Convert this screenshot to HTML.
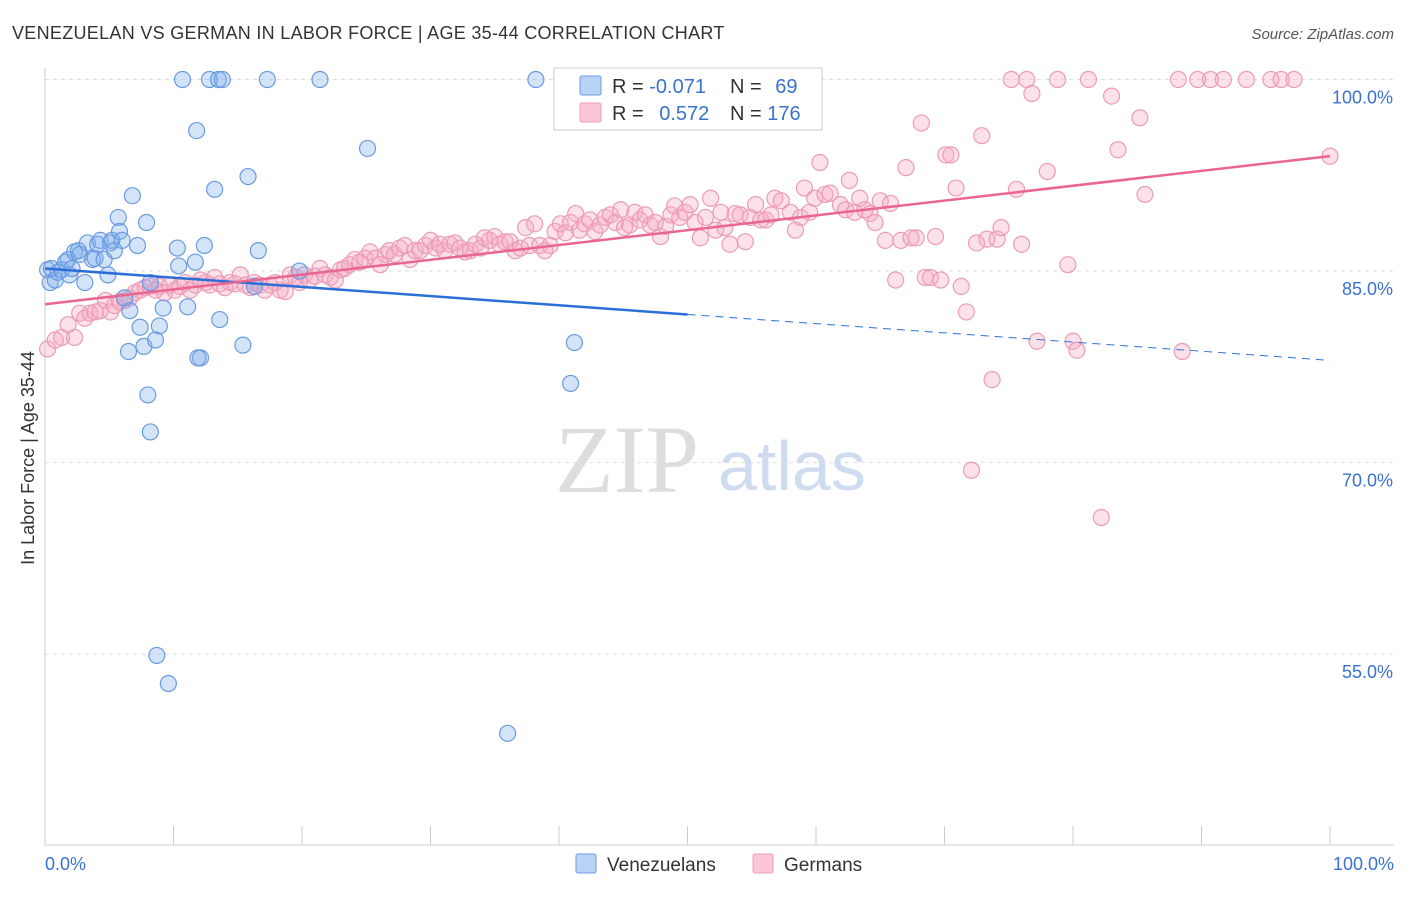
<!DOCTYPE html>
<html><head><meta charset="utf-8"><style>
body{margin:0;background:#fff;font-family:"Liberation Sans",sans-serif}
#wrap{position:relative;width:1406px;height:892px}
</style></head><body>
<div id="wrap">
<svg id="svg" width="1406" height="892" xmlns="http://www.w3.org/2000/svg">
<text x="12" y="39" font-size="18" fill="#333" letter-spacing="0.3">VENEZUELAN VS GERMAN IN LABOR FORCE | AGE 35-44 CORRELATION CHART</text>
<text x="1394" y="39" font-size="15" fill="#555" text-anchor="end" font-style="italic">Source: ZipAtlas.com</text>
<text transform="translate(34,458) rotate(-90)" font-size="18" fill="#333" text-anchor="middle">In Labor Force | Age 35-44</text>
<g id="grid"></g>
<text x="555" y="492" font-size="96" fill="#ddd" font-family="Liberation Serif">ZIP</text>
<text x="718" y="490" font-size="70" fill="#cfdcf0">atlas</text>
<g id="marks"></g>
<g id="lines"></g>
<g>
<rect x="554" y="68" width="268" height="62" fill="#fff" stroke="#ccc"/>
<rect x="580" y="76" width="21" height="19" fill="#b9d3f5" stroke="#6a9be0" rx="2"/>
<rect x="580" y="103" width="21" height="19" fill="#fbc7d6" stroke="#ec9bb7" rx="2"/>
<text x="612" y="93" font-size="20" fill="#333">R = <tspan fill="#3a72d0">-0.071</tspan></text>
<text x="730" y="93" font-size="20" fill="#333">N = <tspan fill="#3a72d0" dx="8">69</tspan></text>
<text x="612" y="120" font-size="20" fill="#333">R = <tspan fill="#3a72d0" dx="10">0.572</tspan></text>
<text x="730" y="120" font-size="20" fill="#333">N = <tspan fill="#3a72d0">176</tspan></text>
</g>
<g>
<rect x="576" y="854" width="20" height="19" fill="#b9d3f5" stroke="#6a9be0" rx="2"/>
<text x="607" y="871" font-size="19" fill="#333">Venezuelans</text>
<rect x="753" y="854" width="20" height="19" fill="#fbc7d6" stroke="#ec9bb7" rx="2"/>
<text x="784" y="871" font-size="19" fill="#333">Germans</text>
</g>
<text x="45" y="870" font-size="18" fill="#3a72d0">0.0%</text>
<text x="1394" y="870" font-size="18" fill="#3a72d0" text-anchor="end">100.0%</text>
</svg>
</div>
<script>
const yTicks=[100,85,70,55];
const yTickLabels=["100.0%","85.0%","70.0%","55.0%"];
const xTicks=[0,10,20,30,40,50,60,70,80,90,100];
const blueX=[0.2,0.4,0.5,0.8,1.0,1.3,1.6,1.8,1.9,2.1,2.3,2.6,2.7,3.1,3.3,3.7,3.9,4.1,4.3,4.6,4.9,5.1,5.2,5.4,5.7,5.8,6.0,6.2,6.5,6.6,6.8,7.2,7.4,7.7,7.9,8.0,8.2,8.6,8.7,8.9,9.2,9.6,10.3,10.4,10.7,11.1,11.7,11.8,12.1,12.4,12.8,13.2,13.5,13.6,13.8,15.4,15.8,16.3,16.6,17.3,19.8,21.4,25.1,36.0,38.2,40.9,41.2,11.9,8.2];
const blueY=[85.1,84.1,85.2,84.3,84.9,85.1,85.7,85.9,84.7,85.2,86.5,86.6,86.3,84.1,87.2,85.9,86.0,87.1,87.4,85.9,84.7,87.2,87.4,86.6,89.2,88.1,87.4,82.9,78.7,81.9,90.9,87.0,80.6,79.1,88.8,75.3,72.4,79.6,54.9,80.7,82.1,52.7,86.8,85.4,100,82.2,85.7,96.0,78.2,87.0,100,91.4,100,81.2,100,79.2,92.4,83.8,86.6,100,85.0,100,94.6,48.8,100,76.2,79.4,78.2,84.1];
const pinkX=[0.2,0.8,1.3,1.8,2.3,2.7,3.1,3.5,3.9,4.3,4.7,5.1,5.4,5.8,6.2,6.6,7.0,7.4,7.8,8.2,8.6,8.9,9.3,9.7,10.1,10.5,10.9,11.3,11.7,12.1,12.5,12.8,13.2,13.6,14.0,14.4,14.8,15.2,15.6,16.0,16.3,16.7,17.1,17.5,17.9,18.3,18.7,19.1,19.5,19.8,20.2,20.6,21.0,21.4,21.8,22.2,22.6,23.0,23.3,23.7,24.1,24.5,24.9,25.3,25.7,26.1,26.5,26.8,27.2,27.6,28.0,28.4,28.8,29.2,29.6,30.0,30.4,30.7,31.1,31.5,31.9,32.3,32.7,33.1,33.5,33.9,34.2,34.6,35.0,35.4,35.8,36.2,36.6,37.0,37.4,37.7,38.1,38.5,38.9,39.3,39.7,40.1,40.5,40.9,41.3,41.6,42.0,42.4,42.8,43.2,43.6,44.0,44.4,44.8,45.1,45.5,45.9,46.3,46.7,47.1,47.5,47.9,48.3,48.7,49.0,49.4,49.8,50.2,50.6,51.0,51.4,51.8,52.2,52.6,52.9,53.3,53.7,54.1,54.5,54.9,55.3,55.7,56.1,56.5,56.8,57.3,58.0,58.4,58.8,59.1,59.5,59.9,60.3,60.7,61.1,61.9,62.3,62.6,63.0,63.4,63.8,64.2,64.6,65.0,65.4,65.8,66.2,66.6,67.0,67.4,67.8,68.2,68.5,68.9,69.3,69.7,70.1,70.5,70.9,71.3,71.7,72.1,72.5,72.9,73.3,73.7,74.1,74.4,75.2,75.6,76.0,76.4,76.8,77.2,78.0,78.8,79.6,80.0,80.3,81.2,82.2,83.0,83.5,85.2,85.6,88.2,88.5,90.7,89.7,91.7,93.5,95.4,96.2,97.2,100];
const pinkY=[78.9,79.6,79.8,80.8,79.8,81.7,81.3,81.7,81.8,81.9,82.7,81.8,82.3,82.6,82.7,82.9,83.3,83.5,83.7,83.8,83.5,83.8,83.3,83.9,83.5,83.8,84.1,83.5,83.9,84.3,84.1,83.9,84.5,84.0,83.7,84.1,84.0,84.7,83.9,83.7,84.1,83.9,83.5,83.9,84.1,83.5,83.4,84.7,84.5,84.1,84.7,84.3,84.6,85.2,84.7,84.5,84.3,85.1,85.2,85.5,85.9,85.7,86.0,86.5,86.0,85.5,86.3,86.6,86.3,86.8,87.0,85.9,86.6,86.6,87.0,87.4,86.8,87.1,86.6,87.1,87.2,86.8,86.5,86.6,87.1,86.8,87.6,87.4,87.7,87.1,87.3,87.3,86.6,86.8,88.4,87.0,88.7,87.0,86.6,87.0,88.1,88.7,88.0,88.8,89.5,88.2,88.7,89.0,88.1,88.6,89.2,89.4,88.8,89.8,88.4,88.6,89.6,89.0,89.4,88.6,88.8,87.7,88.5,89.4,90.1,89.2,89.6,90.2,88.8,87.6,89.2,90.7,88.2,89.6,88.4,87.1,89.5,89.4,87.3,89.2,90.2,89.0,89.0,89.4,90.7,90.5,89.6,88.2,89.2,91.5,89.6,90.7,93.5,91.0,91.1,90.2,89.8,92.1,89.6,90.7,89.8,89.5,88.8,90.5,87.4,90.3,84.3,87.4,93.1,87.6,87.6,96.6,84.5,84.5,87.7,84.3,94.1,94.1,91.5,83.8,81.8,69.4,87.2,95.6,87.5,76.5,87.5,88.4,100,91.4,87.1,100,98.9,79.5,92.8,100,85.5,79.5,78.8,100,65.7,98.7,94.5,97.0,91.0,100,78.7,100,100,100,100,100,100,100,94.0];
const X0=45,X1=1330,YT=79.5,PXY=12.77;
const sx=v=>X0+(X1-X0)*v/100;
const sy=v=>YT+(100-v)*PXY;
const NS="http://www.w3.org/2000/svg";
function mk(t,a,p){const e=document.createElementNS(NS,t);for(const k in a)e.setAttribute(k,a[k]);p.appendChild(e);return e;}
const grid=document.getElementById('grid');
yTicks.forEach((v,i)=>{
 const l=mk('line',{x1:45,x2:1394,y1:sy(v),y2:sy(v),stroke:'#ddd','stroke-dasharray':'4,4'},grid);
 
 
 const t=mk('text',{x:1393,y:sy(v)+24,'font-size':18,fill:'#3a72d0','text-anchor':'end'},grid);
 t.textContent=yTickLabels[i];
 
 
});
mk('line',{x1:45,x2:45,y1:68,y2:845,stroke:'#ccc'},grid);
mk('line',{x1:45,x2:1394,y1:845,y2:845,stroke:'#ccc'},grid);
xTicks.forEach(v=>{
 const l=mk('line',{x1:sx(v),x2:sx(v),y1:826,y2:845,stroke:'#ccc'},grid);
 
 
});
const marks=document.getElementById('marks');
const n=Math.min(pinkX.length,pinkY.length);
for(let i=0;i<n;i++){
 const c=mk('circle',{cx:sx(pinkX[i]),cy:sy(pinkY[i]),r:8,fill:'rgba(246,170,195,0.35)',stroke:'#ec9bb7','stroke-width':1.2},marks);
 
 
}
blueX.forEach((x,i)=>{
 const c=mk('circle',{cx:sx(x),cy:sy(blueY[i]),r:8,fill:'rgba(130,175,235,0.35)',stroke:'#6a9be0','stroke-width':1.2},marks);
 
 
});
const lines=document.getElementById('lines');
const bl=v=>85.2-0.072*v;
const pl=v=>82.4+0.116*v;
let e=mk('line',{x1:sx(0),y1:sy(bl(0)),x2:sx(50),y2:sy(bl(50)),stroke:'#2b6fd6','stroke-width':2.5},lines);


e=mk('line',{x1:sx(50),y1:sy(bl(50)),x2:sx(100),y2:sy(bl(100)),stroke:'#2b6fd6','stroke-width':1,'stroke-dasharray':'8,6'},lines);


e=mk('line',{x1:sx(0),y1:sy(pl(0)),x2:sx(100),y2:sy(pl(100)),stroke:'#e8668f','stroke-width':2.5},lines);


</script>
</body></html>
